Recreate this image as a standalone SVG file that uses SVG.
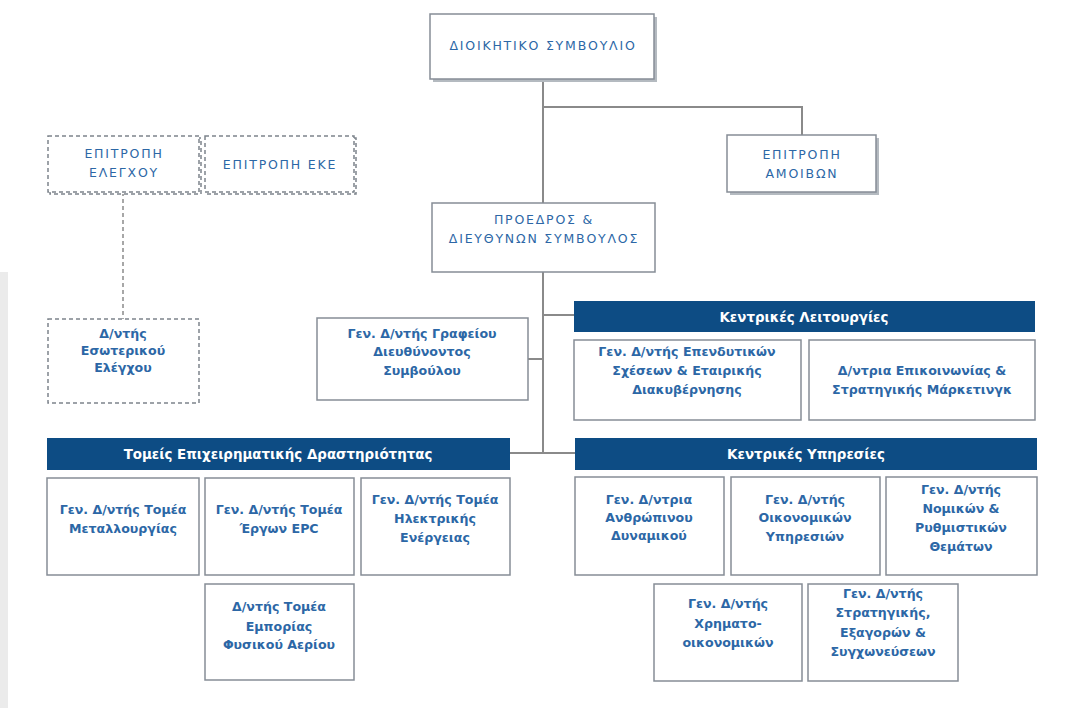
<svg xmlns="http://www.w3.org/2000/svg" width="1079" height="708" viewBox="0 0 1079 708">
<style>
.box{fill:#fff;stroke:#868d96;stroke-width:1.5}
.dash{fill:#fff;stroke:#7d848c;stroke-width:1.5;stroke-dasharray:4 3}
.shd{fill:#b4bac0}
.bar{fill:#0d4c84}
.ln{stroke:#8a8a8a;stroke-width:2;fill:none}
.dl{stroke:#8a8a8a;stroke-width:1.5;fill:none;stroke-dasharray:4 3}
text{font-family:"DejaVu Sans","Liberation Sans",sans-serif;text-anchor:middle}
.t{font-size:12.6px;font-weight:bold;fill:#2c67a6}
.u{font-size:12.5px;fill:#2c67a6;letter-spacing:1.8px}
.h{font-size:13.4px;font-weight:bold;fill:#fff}
</style>
<rect x="0" y="272" width="8" height="436" fill="#ebebeb"/>
<g id="connectors">
<path class="ln" d="M543 79 V453"/>
<path class="ln" d="M543 107 H802 V135"/>
<path class="ln" d="M528 359 H543"/>
<path class="ln" d="M543 315 H574"/>
<path class="ln" d="M510 453 H575"/>
<path class="dl" d="M123 192 V319"/>
</g>
<g id="board">
<rect class="shd" x="433" y="17" width="224" height="65"/>
<rect class="box" x="430" y="14" width="224" height="65"/>
<text class="u" x="543" y="50">ΔΙΟΙΚΗΤΙΚΟ  ΣΥΜΒΟΥΛΙΟ</text>
</g>
<g id="remuneration">
<rect class="shd" x="730" y="138" width="149" height="57"/>
<rect class="box" x="727" y="135" width="149" height="57"/>
<text class="u" x="802" y="159">ΕΠΙΤΡΟΠΗ</text>
<text class="u" x="802" y="178">ΑΜΟΙΒΩΝ</text>
</g>
<g id="ceo">
<rect class="box" x="432" y="203" width="223" height="69"/>
<text class="u" x="544" y="224">ΠΡΟΕΔΡΟΣ &amp;</text>
<text class="u" x="544" y="243">ΔΙΕΥΘΥΝΩΝ  ΣΥΜΒΟΥΛΟΣ</text>
</g>
<g id="audit">
<rect class="dash" x="50" y="138" width="151" height="56" stroke="#b0b5ba"/>
<rect class="dash" x="48" y="136" width="151" height="56"/>
<text class="u" x="124" y="158">ΕΠΙΤΡΟΠΗ</text>
<text class="u" x="124" y="177">ΕΛΕΓΧΟΥ</text>
</g>
<g id="csr">
<rect class="dash" x="207" y="138" width="149" height="56" stroke="#b0b5ba"/>
<rect class="dash" x="205" y="136" width="149" height="56"/>
<text class="u" x="280" y="169">ΕΠΙΤΡΟΠΗ ΕΚΕ</text>
</g>
<g id="internal-audit">
<rect class="dash" x="48" y="319" width="151" height="84"/>
<text class="t" x="123" y="338">Δ/ντής</text>
<text class="t" x="123" y="355">Εσωτερικού</text>
<text class="t" x="123" y="372">Ελέγχου</text>
</g>
<g id="ceo-office">
<rect class="box" x="317" y="318" width="211" height="82"/>
<text class="t" x="422" y="338">Γεν. Δ/ντής Γραφείου</text>
<text class="t" x="422" y="356">Διευθύνοντος</text>
<text class="t" x="422" y="375">Συμβούλου</text>
</g>
<g id="central-functions">
<rect class="bar" x="574" y="301" width="461" height="31"/>
<text class="h" x="804" y="322">Κεντρικές Λειτουργίες</text>
</g>
<g id="investor-relations">
<rect class="box" x="574" y="340" width="227" height="80"/>
<text class="t" x="687" y="356">Γεν. Δ/ντής Επενδυτικών</text>
<text class="t" x="687" y="375">Σχέσεων &amp; Εταιρικής</text>
<text class="t" x="687" y="394">Διακυβέρνησης</text>
</g>
<g id="communications">
<rect class="box" x="809" y="340" width="226" height="80"/>
<text class="t" x="922" y="375">Δ/ντρια Επικοινωνίας &amp;</text>
<text class="t" x="922" y="394">Στρατηγικής Μάρκετινγκ</text>
</g>
<g id="business-sectors">
<rect class="bar" x="47" y="438" width="463" height="32"/>
<text class="h" x="278" y="459">Τομείς Επιχειρηματικής Δραστηριότητας</text>
</g>
<g id="central-services">
<rect class="bar" x="575" y="438" width="462" height="32"/>
<text class="h" x="806" y="459">Κεντρικές Υπηρεσίες</text>
</g>
<g id="metallurgy">
<rect class="box" x="47" y="478" width="152" height="97"/>
<text class="t" x="123" y="514">Γεν. Δ/ντής Τομέα</text>
<text class="t" x="123" y="533">Μεταλλουργίας</text>
</g>
<g id="epc">
<rect class="box" x="205" y="478" width="149" height="97"/>
<text class="t" x="279" y="514">Γεν. Δ/ντής Τομέα</text>
<text class="t" x="279" y="533">Έργων EPC</text>
</g>
<g id="power">
<rect class="box" x="361" y="478" width="149" height="97"/>
<text class="t" x="435" y="504">Γεν. Δ/ντής Τομέα</text>
<text class="t" x="435" y="523">Ηλεκτρικής</text>
<text class="t" x="435" y="542">Ενέργειας</text>
</g>
<g id="gas">
<rect class="box" x="205" y="584" width="149" height="96"/>
<text class="t" x="279" y="611">Δ/ντής Τομέα</text>
<text class="t" x="279" y="631">Εμπορίας</text>
<text class="t" x="279" y="649">Φυσικού Αερίου</text>
</g>
<g id="hr">
<rect class="box" x="575" y="477" width="149" height="98"/>
<text class="t" x="649" y="504">Γεν. Δ/ντρια</text>
<text class="t" x="649" y="522">Ανθρώπινου</text>
<text class="t" x="649" y="540">Δυναμικού</text>
</g>
<g id="finance-services">
<rect class="box" x="731" y="477" width="149" height="98"/>
<text class="t" x="805" y="504">Γεν. Δ/ντής</text>
<text class="t" x="805" y="522">Οικονομικών</text>
<text class="t" x="805" y="541">Υπηρεσιών</text>
</g>
<g id="legal">
<rect class="box" x="886" y="477" width="151" height="98"/>
<text class="t" x="961" y="494">Γεν. Δ/ντής</text>
<text class="t" x="961" y="513">Νομικών &amp;</text>
<text class="t" x="961" y="532">Ρυθμιστικών</text>
<text class="t" x="961" y="551">Θεμάτων</text>
</g>
<g id="cfo">
<rect class="box" x="654" y="584" width="148" height="97"/>
<text class="t" x="728" y="608">Γεν. Δ/ντής</text>
<text class="t" x="728" y="628">Χρηματο-</text>
<text class="t" x="728" y="647">οικονομικών</text>
</g>
<g id="strategy">
<rect class="box" x="808" y="584" width="150" height="97"/>
<text class="t" x="883" y="598">Γεν. Δ/ντής</text>
<text class="t" x="883" y="617">Στρατηγικής,</text>
<text class="t" x="883" y="637">Εξαγορών &amp;</text>
<text class="t" x="883" y="656">Συγχωνεύσεων</text>
</g>
</svg>
